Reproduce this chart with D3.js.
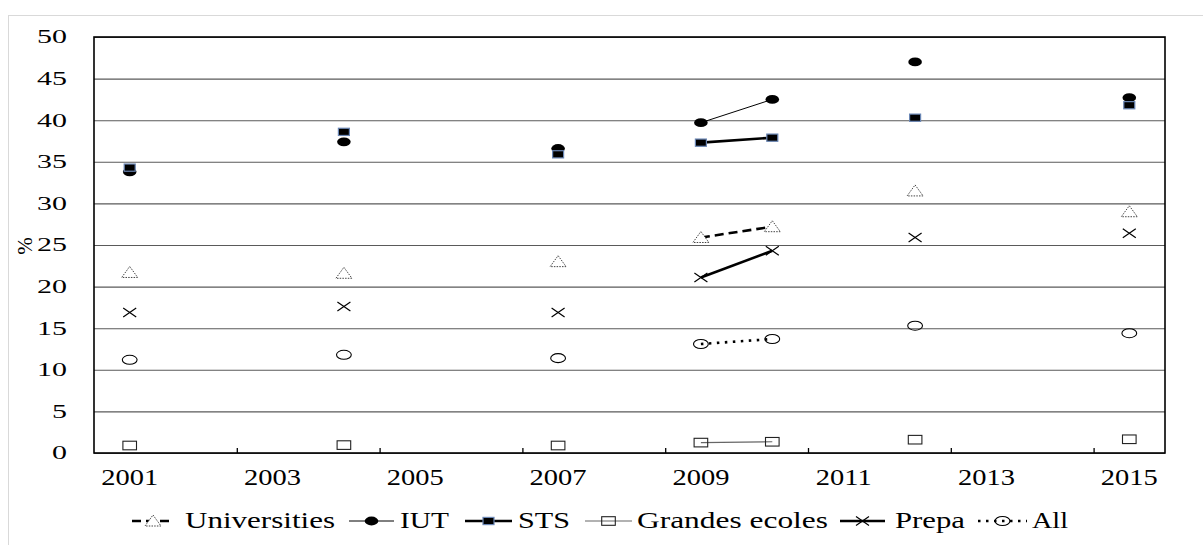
<!DOCTYPE html>
<html>
<head>
<meta charset="utf-8">
<script src="https://cdn.jsdelivr.net/npm/d3@7/dist/d3.min.js"></script>
<style>
  html, body { margin: 0; padding: 0; background: #fff; }
  svg { display: block; }
</style>
</head>
<body>
<svg id="chart" width="1203" height="545"></svg>
<script>
// ---- data ----
const years = [2001, 2004, 2007, 2009, 2010, 2012, 2015];
const universities = [21.7, 21.6, 23.0, 25.9, 27.2, 31.5, 29.0];
const iut          = [33.8, 37.4, 36.6, 39.7, 42.5, 47.0, 42.7];
const sts          = [34.3, 38.6, 35.9, 37.3, 37.9, 40.3, 41.8];
const grandesEcoles= [0.9, 0.95, 0.9, 1.25, 1.35, 1.6, 1.65];
const prepa        = [16.9, 17.6, 16.9, 21.1, 24.3, 25.9, 26.4];
const all          = [11.2, 11.8, 11.4, 13.1, 13.7, 15.3, 14.4];
const seriesNames  = ["Universities", "IUT", "STS", "Grandes ecoles", "Prepa", "All"];
const yTicks = [0, 5, 10, 15, 20, 25, 30, 35, 40, 45, 50];
const xLabels = [2001, 2003, 2005, 2007, 2009, 2011, 2013, 2015];
const xTickMarks = [2002.5, 2004.5, 2006.5, 2008.5, 2010.5, 2012.5, 2014.5];

const seriesValues = [universities, iut, sts, grandesEcoles, prepa, all];

const FONT = '"Liberation Serif", "Tinos", "Times New Roman", "FreeSerif", serif';

// ---- styles ----
const styles = {
  "Universities":   { line: { stroke: "#000", width: 2.6, dash: "9,5" }, marker: "triangle" },
  "IUT":            { line: { stroke: "#000", width: 1, dash: null }, marker: "dot" },
  "STS":            { line: { stroke: "#000", width: 2.6, dash: null }, marker: "fsquare" },
  "Grandes ecoles": { line: { stroke: "#666", width: 1.2, dash: null }, marker: "osquare" },
  "Prepa":          { line: { stroke: "#000", width: 2.6, dash: null }, marker: "cross" },
  "All":            { line: { stroke: "#000", width: 2.6, dash: "2.5,5.5" }, marker: "ocircle" }
};

const svg = d3.select("#chart");

// outer chart frame (light)
svg.append("rect").attr("x", 8.5).attr("y", 15.5).attr("width", 1210).attr("height", 560)
  .attr("fill", "none").attr("stroke", "#d9d9d9").attr("stroke-width", 1);

const L = 94, R = 1165, T = 37, B = 453;
const x = d3.scaleLinear().domain([2000.5, 2015.5]).range([L, R]);
const y = d3.scaleLinear().domain([0, 50]).range([B, T]);

// gridlines
const yAxis = d3.axisLeft(y).tickValues(yTicks).tickSize(-(R - L)).tickFormat("");
const gy = svg.append("g").attr("transform", `translate(${L},0)`).call(yAxis);
gy.select(".domain").remove();
gy.selectAll(".tick line").attr("stroke", "#5a5a5a").attr("stroke-width", 1.1);

// y tick labels
svg.append("g").selectAll("text").data(yTicks).join("text")
  .attr("transform", d => `translate(67,${y(d) + 6.3}) scale(1.62,1)`)
  .attr("text-anchor", "end")
  .attr("font-size", 18.5)
  .style("font-family", FONT)
  .text(d => d);

// x axis: inner tick marks between labels
const xAxis = d3.axisBottom(x).tickValues(xTickMarks).tickSize(-5).tickFormat("");
const gx = svg.append("g").attr("transform", `translate(0,${B})`).call(xAxis);
gx.select(".domain").remove();
gx.selectAll(".tick line").attr("stroke", "#000").attr("stroke-width", 1.3);

// x labels
svg.append("g").selectAll("text").data(xLabels).join("text")
  .attr("transform", d => `translate(${x(d)},485) scale(1.24,1)`)
  .attr("text-anchor", "middle")
  .attr("font-size", 23)
  .style("font-family", FONT)
  .text(d => d);

// plot frame
svg.append("rect").attr("x", L).attr("y", T).attr("width", R - L).attr("height", B - T)
  .attr("fill", "none").attr("stroke", "#000").attr("stroke-width", 1.6);

// y axis title
svg.append("text")
  .attr("transform", "translate(32,246) rotate(-90)")
  .attr("text-anchor", "middle")
  .attr("font-size", 21)
  .style("font-family", FONT)
  .text("%");

// marker drawing
function drawMarker(g, type, cx, cy) {
  switch (type) {
    case "triangle":
      g.append("path")
        .attr("d", `M${cx},${cy - 6} L${cx + 8},${cy + 5} L${cx - 8},${cy + 5} Z`)
        .attr("fill", "#fff").attr("stroke", "#444").attr("stroke-width", 1)
        .attr("stroke-dasharray", "1.5,1.2");
      break;
    case "dot":
      g.append("ellipse").attr("cx", cx).attr("cy", cy).attr("rx", 6.8).attr("ry", 4.4)
        .attr("fill", "#000");
      break;
    case "fsquare":
      g.append("rect").attr("x", cx - 5.5).attr("y", cy - 3.6).attr("width", 11).attr("height", 7.2)
        .attr("fill", "#000").attr("stroke", "#6a86b4").attr("stroke-width", 1.2);
      break;
    case "osquare":
      g.append("rect").attr("x", cx - 6.8).attr("y", cy - 4.3).attr("width", 13.6).attr("height", 8.6)
        .attr("fill", "none").attr("stroke", "#222").attr("stroke-width", 1.1);
      break;
    case "cross":
      g.append("path")
        .attr("d", `M${cx - 6.5},${cy - 4.5} L${cx + 6.5},${cy + 4.5} M${cx - 6.5},${cy + 4.5} L${cx + 6.5},${cy - 4.5}`)
        .attr("stroke", "#000").attr("stroke-width", 1.2).attr("fill", "none");
      break;
    case "ocircle":
      g.append("ellipse").attr("cx", cx).attr("cy", cy).attr("rx", 7.4).attr("ry", 4.5)
        .attr("fill", "none").attr("stroke", "#000").attr("stroke-width", 1.1);
      break;
  }
}

// series: lines only between consecutive yearly observations (data gaps otherwise)
const full = d3.range(2001, 2016);
seriesNames.forEach((name, i) => {
  const st = styles[name];
  const vals = seriesValues[i];
  const pts = full.map(yr => {
    const k = years.indexOf(yr);
    return { year: yr, v: k >= 0 ? vals[k] : null };
  });
  const g = svg.append("g");
  const line = d3.line().x(d => x(d.year)).y(d => y(d.v));
  const segs = [];
  let cur = [];
  pts.forEach(p => {
    if (p.v === null) { if (cur.length > 1) segs.push(cur); cur = []; }
    else cur.push(p);
  });
  if (cur.length > 1) segs.push(cur);
  segs.forEach(s => {
    g.append("path").attr("d", line(s)).attr("fill", "none")
      .attr("stroke", st.line.stroke).attr("stroke-width", st.line.width)
      .attr("stroke-dasharray", st.line.dash);
  });
  years.forEach((yr, k) => drawMarker(g, st.marker, x(yr), y(vals[k])));
});

// legend
const legendLayout = [
  { s0: 132, s1: 174, tx: 185, tw: 150 },
  { s0: 349, s1: 394, tx: 400, tw: 49 },
  { s0: 465, s1: 512, tx: 518, tw: 52 },
  { s0: 585, s1: 632, tx: 637, tw: 191 },
  { s0: 840, s1: 885, tx: 895, tw: 70 },
  { s0: 978, s1: 1027, tx: 1032, tw: 36 }
];
const ly = 521;
const lg = svg.append("g");
seriesNames.forEach((name, i) => {
  const st = styles[name], p = legendLayout[i];
  lg.append("line").attr("x1", p.s0).attr("x2", p.s1).attr("y1", ly).attr("y2", ly)
    .attr("stroke", st.line.stroke).attr("stroke-width", st.line.width)
    .attr("stroke-dasharray", st.line.dash);
  drawMarker(lg, st.marker, (p.s0 + p.s1) / 2, ly);
  lg.append("text").attr("x", p.tx).attr("y", 527.5).attr("font-size", 22.5)
    .style("font-family", FONT)
    .attr("textLength", p.tw).attr("lengthAdjust", "spacingAndGlyphs")
    .text(name);
});
</script>
</body>
</html>
